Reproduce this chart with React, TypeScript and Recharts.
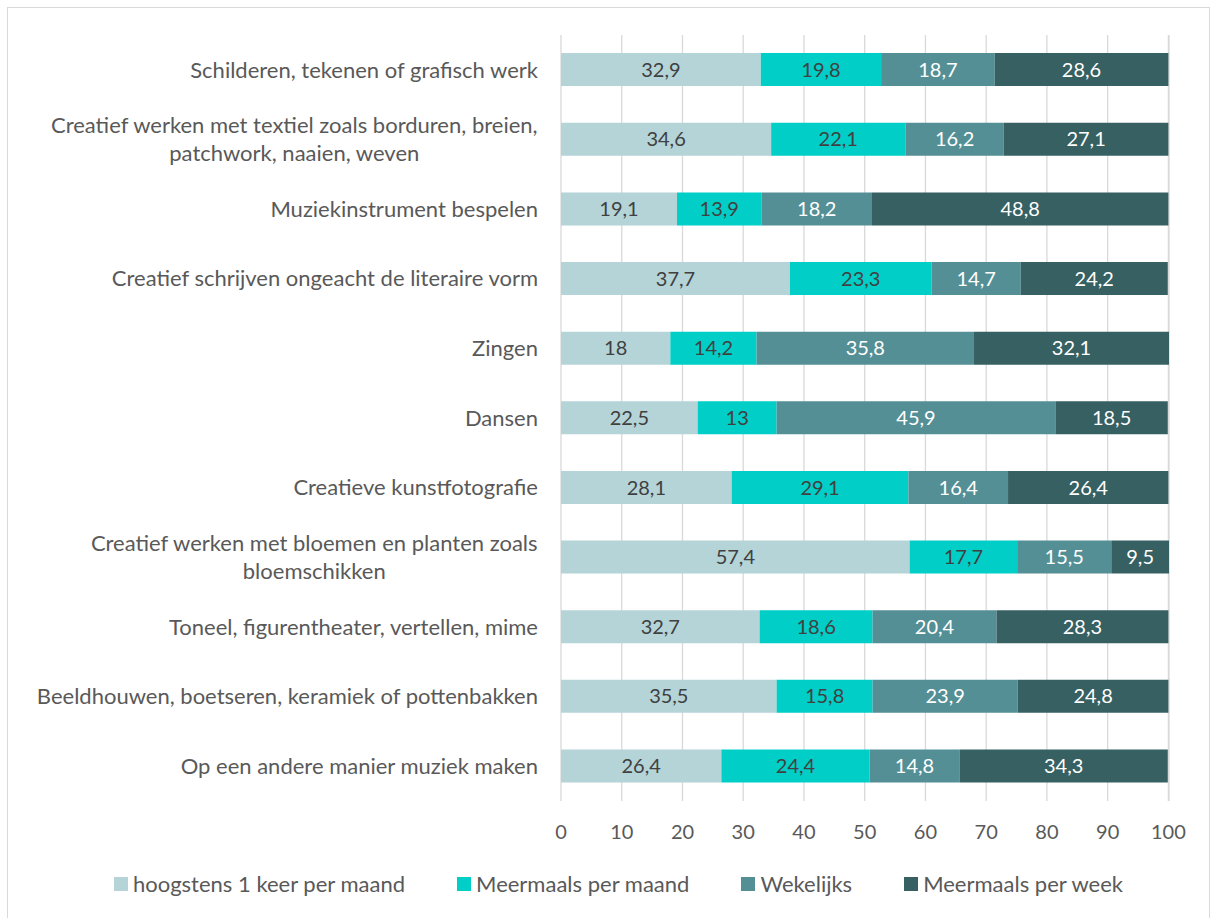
import { BarChart, Bar, XAxis, YAxis, CartesianGrid, LabelList, Legend } from 'recharts'

const CATEGORIES = [
  ['Schilderen, tekenen of grafisch werk'],
  ['Creatief werken met textiel zoals borduren, breien,', 'patchwork, naaien, weven'],
  ['Muziekinstrument bespelen'],
  ['Creatief schrijven ongeacht de literaire vorm'],
  ['Zingen'],
  ['Dansen'],
  ['Creatieve kunstfotografie'],
  ['Creatief werken met bloemen en planten zoals', 'bloemschikken'],
  ['Toneel, figurentheater, vertellen, mime'],
  ['Beeldhouwen, boetseren, keramiek of pottenbakken'],
  ['Op een andere manier muziek maken'],
]

const HOOGSTENS = [32.9, 34.6, 19.1, 37.7, 18, 22.5, 28.1, 57.4, 32.7, 35.5, 26.4]
const MEERMAALS_MAAND = [19.8, 22.1, 13.9, 23.3, 14.2, 13, 29.1, 17.7, 18.6, 15.8, 24.4]
const WEKELIJKS = [18.7, 16.2, 18.2, 14.7, 35.8, 45.9, 16.4, 15.5, 20.4, 23.9, 14.8]
const MEERMAALS_WEEK = [28.6, 27.1, 48.8, 24.2, 32.1, 18.5, 26.4, 9.5, 28.3, 24.8, 34.3]

const X_TICKS = [0, 10, 20, 30, 40, 50, 60, 70, 80, 90, 100]

const SERIES = [
  { key: 'hoogstens', name: 'hoogstens 1 keer per maand', color: '#b4d4d8', text: '#404040' },
  { key: 'maand', name: 'Meermaals per maand', color: '#00cec7', text: '#404040' },
  { key: 'wekelijks', name: 'Wekelijks', color: '#548f96', text: '#ffffff' },
  { key: 'week', name: 'Meermaals per week', color: '#366062', text: '#ffffff' },
]

const data = CATEGORIES.map((lines, i) => ({
  name: lines.join(' '),
  lines,
  hoogstens: HOOGSTENS[i],
  maand: MEERMAALS_MAAND[i],
  wekelijks: WEKELIJKS[i],
  week: MEERMAALS_WEEK[i],
}))

const FONT = 'Lato, Carlito, sans-serif'
const TEXT_SIZE = 22
const NUM_SIZE = 20

let ctx: CanvasRenderingContext2D | null = null
function textWidth(s: string) {
  if (!ctx) ctx = document.createElement('canvas').getContext('2d')
  if (!ctx) return s.length * 9
  ctx.font = `${TEXT_SIZE}px ${FONT}`
  return ctx.measureText(s).width
}

const fmt = (v: any) => String(v).replace('.', ',')

function CategoryTick(props: any) {
  const { x, y, payload } = props
  const row = data.find((d) => d.name === payload.value)
  const lines = row ? row.lines : [String(payload.value)]
  if (lines.length === 1) {
    return (
      <text x={x} y={y} dy="0.35em" textAnchor="end" fill="#595959" fontSize={TEXT_SIZE} fontFamily={FONT}>
        {lines[0]}
      </text>
    )
  }
  const cx = x - textWidth(lines[0]) / 2
  return (
    <text textAnchor="middle" fill="#595959" fontSize={TEXT_SIZE} fontFamily={FONT}>
      {lines.map((l: string, i: number) => (
        <tspan key={i} x={cx} y={y + (i - (lines.length - 1) / 2) * 28} dy="0.35em">
          {l}
        </tspan>
      ))}
    </text>
  )
}

function LegendContent() {
  return (
    <div
      style={{
        display: 'flex',
        justifyContent: 'center',
        gap: 52,
        paddingLeft: 24,
        fontFamily: FONT,
        fontSize: TEXT_SIZE,
        color: '#595959',
      }}
    >
      {SERIES.map((s) => (
        <div key={s.key} style={{ display: 'flex', alignItems: 'center' }}>
          <span style={{ width: 14, height: 14, background: s.color, display: 'inline-block', marginRight: 5 }} />
          <span>{s.name}</span>
        </div>
      ))}
    </div>
  )
}

export default function App() {
  return (
    <div style={{ position: 'relative', width: 1213, height: 918, background: '#fff' }}>
      <style>{'body{margin:0;overflow:hidden}'}</style>
      <div
        style={{
          position: 'absolute',
          left: 7,
          top: 7,
          width: 1201,
          height: 930,
          border: '1px solid #d9d9d9',
          pointerEvents: 'none',
        }}
      />
      <BarChart
        width={1213}
        height={918}
        data={data}
        layout="vertical"
        margin={{ top: 35, right: 44, bottom: 60, left: 0 }}
        barCategoryGap="26%"
      >
        <CartesianGrid horizontal={false} stroke="#d9d9d9" strokeWidth={1.3} />
        <XAxis
          type="number"
          domain={[0, 100]}
          ticks={X_TICKS}
          axisLine={false}
          tickLine={false}
          tick={{ fill: '#595959', fontSize: NUM_SIZE, fontFamily: FONT }}
          tickMargin={18}
          interval={0}
        />
        <YAxis
          type="category"
          dataKey="name"
          width={561}
          axisLine={false}
          tickLine={false}
          tickMargin={17}
          interval={0}
          tick={<CategoryTick />}
        />
        {SERIES.map((s) => (
          <Bar key={s.key} dataKey={s.key} name={s.name} stackId="a" fill={s.color} isAnimationActive={false}>
            <LabelList
              dataKey={s.key}
              position="center"
              formatter={fmt}
              fill={s.text}
              fontSize={NUM_SIZE}
              fontFamily={FONT}
            />
          </Bar>
        ))}
        <Legend
          content={<LegendContent />}
          wrapperStyle={{ position: 'absolute', top: 870, left: 0, width: 1213 }}
        />
      </BarChart>
    </div>
  )
}
